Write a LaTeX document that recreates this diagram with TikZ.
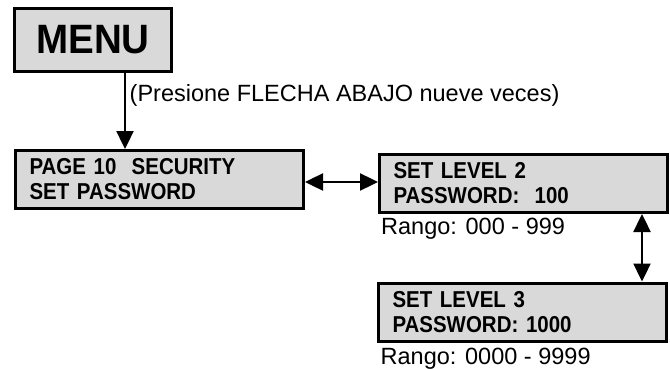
\documentclass[tikz,border=0pt]{standalone}
\usepackage{fontspec}
\setmainfont{Liberation Sans}
\newfontfamily\angosta[FakeStretch=0.89]{Liberation Sans}
\newfontfamily\angostaM[FakeStretch=0.94]{Liberation Sans}
\usetikzlibrary{arrows.meta,positioning}
\definecolor{grisCaja}{RGB}{217,217,217}
\tikzset{
  caja/.style={rectangle,draw=black,line width=3pt,fill=grisCaja,align=left,minimum height=58pt,text width=260pt,inner xsep=14pt,font=\angosta\fontsize{23}{25}\selectfont\bfseries},
  cajaMenu/.style={rectangle,draw=black,line width=3pt,fill=grisCaja,minimum width=157pt,minimum height=63pt,font=\angostaM\fontsize{41}{42}\selectfont\bfseries},
  punta/.tip={Triangle[length=18pt,width=17pt]},
  flecha/.style={-punta,line width=2.4pt},
  flechaDoble/.style={punta-punta,line width=2.4pt},
  nota/.style={font=\fontsize{23.5}{26}\selectfont,inner sep=0pt},
  rango/.style={font=\fontsize{23.5}{26}\selectfont,inner sep=0pt},
}

\begin{document}
\begin{tikzpicture}[x=1pt,y=-1pt]
\useasboundingbox (0,0) rectangle (670,369);
% menu y primera pantalla
\node[cajaMenu] (menu) at (93,40) {MENU};
\node[caja] (pag) at (159.5,179.5) {PAGE 10\ \ SECURITY\\SET PASSWORD};
\draw[flecha] (menu.south -| 125,0) -- (pag.north -| 125,0)
  node[nota,pos=0.3,right=3.5pt] (aviso) {(Presione FLECHA ABAJO nueve veces)};
% niveles de password
\node[caja] (niv2) at (523.5,183.5) {SET LEVEL 2\\PASSWORD:\ \ 100};
\node[caja] (niv3) at (522.5,312) {SET LEVEL 3\\PASSWORD: 1000};
\node[rango,below=4pt of niv2.south west,anchor=north west,xshift=3pt] (r2) {Rango: 000 - 999};
\node[rango,below=5pt of niv3.south west,anchor=north west,xshift=3.5pt] (r3) {Rango: 0000 - 9999};
\draw[flechaDoble] (pag.east |- 0,182) -- (niv2.west |- 0,182);
\draw[flechaDoble] (niv2.south -| 642,0) -- (niv3.north -| 642,0);
\end{tikzpicture}
\end{document}
